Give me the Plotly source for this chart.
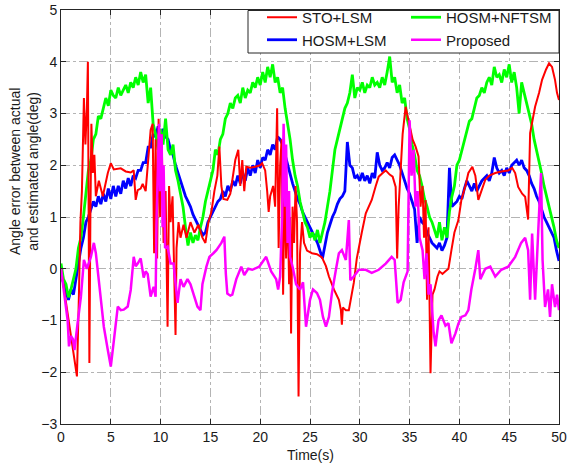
import plotly.graph_objects as go

# ---------------- data ----------------
X_TICKS = [0, 5, 10, 15, 20, 25, 30, 35, 40, 45, 50]
Y_TICKS = [-3, -2, -1, 0, 1, 2, 3, 4, 5]

T_UNIFORM = [k * 0.25 for k in range(201)]  # 0 .. 50 s, 0.25 s sampling

HOSM_NFTSM = [
    0.1, -0.2, -0.3, -0.55, -0.4, -0.2, 0.0, 0.4, 0.6,
    1.0, 1.4, 1.9, 2.1, 2.5, 2.6, 2.95, 2.9,
    3.1, 3.3, 3.15, 3.45, 3.35, 3.3, 3.5, 3.35,
    3.45, 3.55, 3.4, 3.6, 3.5, 3.7, 3.55, 3.8,
    3.6, 3.75, 3.2, 3.5, 2.8, 2.6, 2.3, 2.7,
    2.4, 2.9, 2.3, 2.2, 2.4, 1.9, 1.7, 1.45,
    1.2, 0.8, 0.45, 0.7, 0.5, 0.65, 0.55, 0.8,
    1.0, 1.3, 1.5, 1.75, 1.9, 2.3, 2.2, 2.5,
    2.6, 2.9, 3.0, 3.2, 3.1, 3.3, 3.35, 3.2,
    3.5, 3.3, 3.45, 3.4, 3.6, 3.5, 3.7, 3.55,
    3.8, 3.6, 3.9, 3.7, 3.95, 3.6, 3.7, 3.4,
    3.5, 3.1, 2.8, 2.5, 2.1, 1.8, 1.6, 1.3,
    1.1, 0.9, 0.8, 0.6, 0.7, 0.55, 0.75, 0.5,
    0.7, 0.9, 1.2, 1.5, 1.9, 2.3, 2.5, 2.7,
    2.9, 3.1, 3.2, 3.4, 3.75, 3.3, 3.5, 3.45,
    3.6, 3.4, 3.55, 3.5, 3.7, 3.55, 3.6, 3.5,
    3.7, 3.55, 3.8, 4.1, 3.6, 3.7, 3.4, 3.55,
    3.2, 3.3, 2.9, 2.7, 2.4, 2.2, 1.9, 1.8,
    1.6, 1.35, 1.2, 1.0, 0.9, 0.75, 0.6, 0.9,
    0.55, 0.8, 0.6, 1.1, 1.4, 1.6, 2.0, 2.1,
    2.3, 2.5, 2.7, 2.85, 2.9, 3.1, 3.3, 3.35,
    3.5, 3.4, 3.6, 3.7, 3.55, 3.9, 3.7, 3.75,
    3.6, 3.85, 3.7, 3.95, 3.6, 3.8, 3.5, 3.0,
    3.6, 3.4, 3.2, 3.0, 2.8, 2.5, 2.3, 2.1,
    1.85, 1.6, 1.4, 1.25, 1.0, 0.8, 0.55, 0.4,
]

HOSM_LSM = [
    -0.1, -0.3, -0.45, -0.6, -0.4, -0.5, -0.2, 0.1, 0.4,
    0.6, 0.9, 1.0, 1.15, 1.3, 1.2, 1.4, 1.25,
    1.45, 1.3, 1.55, 1.35, 1.6, 1.4, 1.6, 1.45,
    1.7, 1.55, 1.75, 1.6, 1.8, 1.75, 1.9, 1.9,
    2.05, 2.05, 2.35, 2.35, 2.6, 2.55, 2.75, 2.6,
    2.7, 2.55, 2.5, 2.3, 2.2, 2.0, 1.85, 1.7,
    1.55, 1.4, 1.3, 1.2, 1.05, 0.95, 0.85, 0.75,
    0.65, 0.7, 0.9, 1.0, 1.1, 1.2, 1.3, 1.35,
    1.5, 1.4, 1.6, 1.5, 1.7, 1.6, 1.8, 1.65,
    1.85, 1.7, 1.95, 1.8, 2.0, 1.85, 2.1, 1.95,
    2.15, 2.1, 2.3, 2.2, 2.4, 2.3, 2.55, 2.5,
    2.4, 2.2, 2.0, 1.85, 1.65, 1.5, 1.35, 1.25,
    1.1, 1.0, 0.9, 0.8, 0.7, 0.6, 0.5, 0.35,
    0.2, 0.45, 0.7, 0.85, 1.0, 1.1, 1.25, 1.35,
    1.4, 1.5, 2.45, 2.0, 1.95, 1.75, 1.8, 1.7,
    1.85, 1.7, 1.8, 1.65, 1.85, 1.75, 2.25, 2.0,
    1.9, 1.95, 2.05, 1.95, 2.15, 2.2, 2.1, 2.0,
    1.85, 1.7, 1.55, 1.45, 1.3, 1.15, 0.5, 1.0,
    0.9, 0.85, 0.7, 0.6, 0.5, 0.45, 0.4, 0.5,
    0.35, 0.45, 0.6, 1.95, 1.2, 1.25, 1.3, 1.4,
    1.35, 1.55, 1.7, 1.6, 1.5, 1.65, 1.5, 1.6,
    1.7, 1.75, 1.8, 1.7, 1.85, 2.15, 1.95, 1.85,
    1.9, 1.8, 1.95, 1.85, 2.0, 2.05, 2.1, 2.0,
    2.1, 1.95, 1.9, 1.8, 1.65, 1.55, 1.4, 1.3,
    1.15, 1.0, 0.9, 0.8, 0.7, 0.6, 0.35, 0.15,
]

STO_T = [
    0, 1.6, 1.8, 1.95, 2.1, 2.3, 2.45, 2.6, 2.7, 2.78, 2.85, 2.95, 3.05, 3.2, 3.35, 3.5,
    3.8, 4.2, 4.7, 5.0, 5.3, 6.0, 6.5, 7.0, 7.3, 7.5, 7.7, 8.0, 8.2, 8.5, 8.8, 9.0,
    9.2, 9.35, 9.5, 9.65, 9.8, 9.95, 10.1, 10.3, 10.5, 10.7, 10.85, 11.0, 11.2, 11.5, 11.6, 11.8,
    12.0, 12.3, 12.6, 13.0, 13.4, 13.8, 14.2, 14.5, 14.8, 15.1, 15.4, 15.7, 15.9, 16.1,
    16.3, 16.7, 17.0, 17.3, 17.5, 17.8, 18.0, 18.2, 18.4, 18.6, 19.0, 19.5, 20.0, 20.2,
    20.5, 20.7, 20.85, 21.0, 21.3, 21.5, 21.7, 21.85, 22.0, 22.15, 22.3, 22.45, 22.6, 22.75,
    22.9, 23.0, 23.1, 23.25, 23.4, 23.55, 23.7, 23.85, 24.0, 24.2, 24.4, 24.7, 25.2, 25.7,
    26.2, 26.6, 26.9, 27.4, 27.9, 28.1, 28.2, 28.3, 28.6, 28.9, 29.2, 29.4, 29.7, 29.9,
    30.2, 30.6, 31.2, 31.6, 31.9, 32.3, 32.6, 33.0, 33.3, 33.6, 33.75, 33.9, 34.1, 34.3,
    34.6, 35.0, 35.3, 35.6, 35.9, 36.1, 36.3, 36.45, 36.6, 36.75, 36.9, 37.1, 37.3, 37.5,
    37.8, 38.0, 38.3, 38.6, 38.9, 39.2, 39.5, 39.9, 40.2, 40.6, 40.9, 41.3, 41.6, 41.9,
    42.2, 42.6, 43.0, 43.6, 44.2, 44.9, 45.3, 45.6, 45.9, 46.3, 46.6, 46.9, 47.1, 47.4,
    47.6, 48.0, 48.3, 48.7, 49.0, 49.3, 49.6, 49.8, 50.0,
]
STO_LSM = [
    0.0, -2.08, -0.5, 0.9, 1.5, 3.3, 2.4, 3.1, 4.0, 1.5, -1.82, 1.0, 2.8, 1.85, 2.2, 1.4,
    1.7, 1.4, 1.85, 2.04, 1.92, 1.94, 1.88, 1.86, 1.9, 1.33, 1.52, 1.55, 1.64, 1.5, 2.2, 2.68,
    2.8, 0.3, 2.5, 0.2, 2.9, 1.0, 2.6, 0.5, 1.5, -1.12, 1.6, 0.9, 1.4, -1.28, 0.4, 0.9,
    0.6, 0.85, 0.6, 0.9, 0.7, 0.85, 0.6, 0.5, 0.9, 1.1, 1.5, 1.8, 2.36, 1.6,
    1.35, 1.33, 1.45, 1.9, 2.1, 2.3, 1.6, 2.1, 1.5, 1.97, 1.95, 1.97, 2.0, 2.04,
    1.9, 1.5, 1.1, 1.4, 1.6, 1.2, 3.1, 0.4, 2.0, 2.5, -0.5, 1.8, 0.2, 1.4,
    -0.3, 1.0, -1.25, 1.2, 0.5, 1.6, 0.9, -2.47, 0.3, 0.9, 0.5, 0.35, 0.3, 0.28,
    0.22, 0.05, -0.15, -0.4, -0.6, -0.8, -1.08, -0.75, -0.8, -0.8, -0.5, -0.27, 0.2, 0.43,
    0.7, 1.07, 1.33, 1.6, 1.78, 1.85, 1.9, 1.82, 1.78, 1.58, 0.2, 1.2, 2.0, 2.6,
    3.13, 2.8, 2.5, 2.36, 2.17, 1.2, 1.6, 0.6, 1.33, -0.6, 0.8, -2.02, -0.5, -0.4,
    -0.15, -0.05, -0.1, -0.05, 0.0, 0.36, 0.7, 0.94, 1.33, 1.6, 1.85, 1.97, 1.8, 1.33,
    1.5, 1.72, 1.8, 1.85, 1.88, 1.9, 1.95, 1.85, 1.58, 1.45, 1.39, 0.95, 2.62, 2.9,
    3.13, 3.4, 3.65, 3.85, 3.97, 3.9, 3.65, 3.4, 3.26,
]

PROP_T = [
    0, 0.67, 0.8, 1.0, 1.2, 1.35, 1.7, 2.0, 2.3, 2.6, 3.0, 3.3, 3.5, 3.7, 4.0, 4.3,
    4.7, 5.0, 5.3, 5.5, 5.7, 6.0, 6.3, 6.7, 7.0, 7.3, 7.5, 7.7, 8.0, 8.3, 8.5, 8.7,
    9.0, 9.3, 9.5, 9.6, 9.75, 9.85, 9.95, 10.1, 10.2, 10.3, 10.45, 10.7, 11.0, 11.3, 11.7, 12.0,
    12.3, 12.7, 13.0, 13.3, 13.7, 14.0, 14.2, 14.6, 14.9, 15.3, 15.6, 16.1, 16.4, 16.55,
    16.7, 17.0, 17.2, 17.6, 18.1, 18.4, 18.8, 19.2, 19.9, 20.3, 20.6, 21.1, 21.6, 21.8,
    22.0, 22.2, 22.35, 22.5, 22.6, 22.75, 22.9, 23.0, 23.3, 23.6, 24.0, 24.3, 24.6, 25.0,
    25.3, 25.7, 26.0, 26.3, 26.6, 26.9, 27.2, 27.6, 27.9, 28.2, 28.6, 28.9, 29.05, 29.4,
    29.9, 30.6, 31.2, 31.9, 32.6, 33.2, 33.5, 33.8, 34.1, 34.4, 34.8, 35.0, 35.2, 35.4,
    35.6, 35.8, 36.0, 36.3, 36.5, 36.7, 36.9, 37.1, 37.4, 37.6, 37.9, 38.2, 38.6, 38.9,
    39.2, 39.6, 39.9, 40.2, 40.6, 40.9, 41.2, 41.6, 41.9, 42.1, 42.6, 43.1, 43.6, 44.2,
    44.9, 45.6, 46.2, 46.6, 46.9, 47.1, 47.3, 47.6, 47.9, 48.1, 48.2, 48.35, 48.6, 48.9,
    49.1, 49.3, 49.6, 49.8, 50.0,
]
PROPOSED = [
    0.0, -1.0, -1.5, -1.3, -1.36, -1.57, -1.0, -0.54, 0.17, 0.0, 0.23, 0.5, 0.3, -0.03, -0.54, -1.12,
    -1.57, -1.89, -1.4, -1.0, -0.73, -0.8, -0.79, -0.73, -0.41, 0.23, 0.05, 0.1, 0.2, -0.17, -0.05, -0.1,
    -0.54, -0.35, -0.54, 1.0, 2.0, 2.8, 1.5, 2.6, 0.8, 2.0, 0.4, 0.43, 0.1, 0.1, -0.66, -0.2,
    -0.35, -0.2, -0.3, -0.48, -0.73, -0.8, -0.3, 0.04, 0.23, 0.3, 0.36, 0.5, 0.62, -0.1,
    -0.48, -0.52, -0.5, -0.2, 0.04, -0.12, 0.0, -0.02, 0.04, 0.15, 0.23, -0.05, -0.2, -0.4,
    -0.15, 1.0, 2.8, 1.2, 2.4, 0.5, 1.5, 0.23, 0.0, -0.3, -0.4, -0.26, -1.12, -0.6,
    -0.4, -0.47, -0.6, -0.93, -1.12, -0.93, -0.47, -0.02, 0.3, 0.36, 0.17, 0.94, -0.22, -0.15,
    -0.02, -0.02, -0.08, -0.02, 0.1, 0.23, 0.17, -0.66, -0.6, -0.26, -0.05, 2.87, 1.8, 2.3,
    1.2, 1.5, 0.6, 0.36, -0.2, 0.3, -0.5, -0.3, -1.2, -1.5, -1.0, -0.9, -1.1, -1.05,
    -1.44, -1.25, -1.06, -0.93, -0.9, -0.8, -0.4, 0.0, 0.36, -0.2, 0.0, 0.04, -0.15, -0.02,
    0.04, 0.23, 0.5, 0.6, 0.36, -0.6, 0.68, -0.6, 0.81, 1.5, 1.85, 0.17, -0.74, -0.4,
    -0.93, -0.3, -0.74, -0.5, -0.8,
]

# ---------------- figure ----------------
FONT = "Liberation Sans, Arial, Helvetica, sans-serif"
AX_COLOR = "#262626"
GRID_COLOR = "#b4b4b4"

M_L, M_R, M_T, M_B = 61, 8, 10, 40
PW = 567 - M_L - M_R   # plot width in px
PH = 464 - M_T - M_B   # plot height in px


def px_x(px):
    return (px - M_L) / PW


def px_y(py):
    return (464 - M_B - py) / PH


fig = go.Figure()
fig.add_trace(go.Scatter(x=T_UNIFORM, y=HOSM_LSM, mode="lines", name="HOSM+LSM",
                         line=dict(color="#0000FF", width=2.8), legend="legend"))
fig.add_trace(go.Scatter(x=T_UNIFORM, y=HOSM_NFTSM, mode="lines", name="HOSM+NFTSM",
                         line=dict(color="#00FF00", width=2.8), legend="legend2"))
fig.add_trace(go.Scatter(x=STO_T, y=STO_LSM, mode="lines", name="STO+LSM",
                         line=dict(color="#FF0000", width=2), legend="legend"))
fig.add_trace(go.Scatter(x=PROP_T, y=PROPOSED, mode="lines", name="Proposed",
                         line=dict(color="#FF00FF", width=2.5), legend="legend2"))

# legend frame (white box, drawn above the data)
fig.add_shape(type="rect", xref="paper", yref="paper",
              x0=px_x(248), x1=1.0,
              y0=px_y(53), y1=px_y(10.5),
              fillcolor="white", line=dict(color=AX_COLOR, width=1), layer="above")

axis_common = dict(
    showline=True, linecolor=AX_COLOR, linewidth=1, mirror="ticks",
    ticks="inside", ticklen=5, tickcolor=AX_COLOR, tickwidth=1,
    showgrid=True, gridcolor=GRID_COLOR, griddash="dashdot", gridwidth=1,
    zeroline=False, ticklabeloverflow="allow", automargin=False,
    tickfont=dict(family=FONT, size=14, color="#1a1a1a"),
)
fig.update_xaxes(range=[0, 50], tickvals=X_TICKS, **axis_common)
fig.update_yaxes(range=[-3, 5], tickvals=Y_TICKS, **axis_common)

legend_common = dict(
    orientation="v", yanchor="top", xanchor="left", bgcolor="rgba(0,0,0,0)",
    borderwidth=0, font=dict(family=FONT, size=15, color="#1a1a1a"),
    tracegroupgap=0, itemwidth=30,
)
LEG_TOP = px_y(1)
fig.update_layout(
    width=567, height=464,
    margin=dict(l=M_L, r=M_R, t=M_T, b=M_B, autoexpand=False),
    paper_bgcolor="white", plot_bgcolor="white",
    showlegend=True,
    legend=dict(x=px_x(262), y=LEG_TOP, traceorder="reversed", **legend_common),
    legend2=dict(x=px_x(406), y=LEG_TOP, **legend_common),
    annotations=[
        dict(text="Time(s)", xref="paper", yref="paper", x=0.5, y=px_y(455),
             xanchor="center", yanchor="middle", showarrow=False,
             font=dict(family=FONT, size=14, color="#1a1a1a")),
        dict(text="Angle error between actual<br>and estimated angle(deg)",
             xref="paper", yref="paper", x=px_x(24), y=px_y(172),
             xanchor="center", yanchor="middle", textangle=-90, showarrow=False,
             font=dict(family=FONT, size=14, color="#1a1a1a")),
    ],
)

fig.write_html("out.html")
